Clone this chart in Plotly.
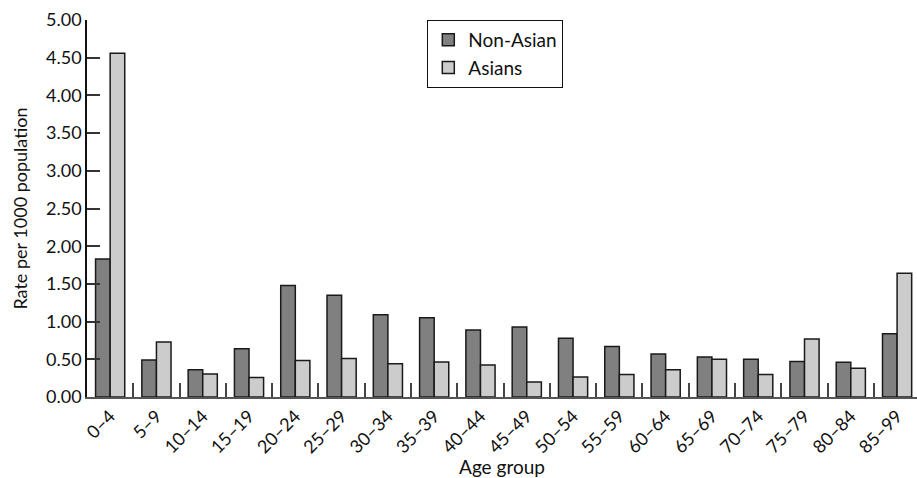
import plotly.graph_objects as go

age_groups = ["0–4", "5–9", "10–14", "15–19", "20–24", "25–29", "30–34", "35–39", "40–44",
              "45–49", "50–54", "55–59", "60–64", "65–69", "70–74", "75–79", "80–84", "85–99"]
non_asian = [1.83, 0.49, 0.36, 0.64, 1.48, 1.35, 1.09, 1.05, 0.89, 0.93, 0.78, 0.67, 0.57, 0.53, 0.50, 0.47, 0.46, 0.84]
asians = [4.56, 0.73, 0.305, 0.26, 0.485, 0.51, 0.44, 0.465, 0.425, 0.20, 0.265, 0.30, 0.36, 0.50, 0.30, 0.77, 0.38, 1.64]
y_ticks = [0, 0.5, 1, 1.5, 2, 2.5, 3, 3.5, 4, 4.5, 5]

FONT = "Lato, 'Open Sans', sans-serif"

fig = go.Figure()
fig.add_trace(go.Bar(name="Non-Asian", x=age_groups, y=non_asian,
                     marker=dict(color="#808080", line=dict(color="#1a1a1a", width=1.5))))
fig.add_trace(go.Bar(name="Asians", x=age_groups, y=asians,
                     marker=dict(color="#cccccc", line=dict(color="#1a1a1a", width=1.5))))

fig.update_layout(
    width=917, height=478,
    margin=dict(l=87, r=0, t=20, b=81),
    paper_bgcolor="white", plot_bgcolor="white",
    barmode="group", bargap=0.37, bargroupgap=0,
    font=dict(family=FONT, size=18, color="#111"),
    showlegend=True,
    legend=dict(x=0.41, y=1.0, xanchor="left", yanchor="top",
                bordercolor="#111", borderwidth=1, bgcolor="white",
                font=dict(size=19), itemwidth=30, tracegroupgap=0),
    xaxis=dict(
        range=[-0.5, 17.43], automargin=False,
        tickson="boundaries", ticks="inside", ticklen=14, tickcolor="#444", tickwidth=1.5,
        tickangle=-45, showline=True, linecolor="#555", linewidth=1.5,
        showgrid=False, zeroline=False,
        tickfont=dict(size=18),
        title=dict(text="Age group", font=dict(size=19), standoff=4),
    ),
    yaxis=dict(
        range=[0, 5], tickvals=y_ticks, tickformat=".2f", automargin=False,
        ticks="inside", ticklen=13, tickcolor="#333", tickwidth=1.5,
        showline=True, linecolor="#111", linewidth=1.5,
        showgrid=False, zeroline=False,
        tickfont=dict(size=18),
        title=dict(text="Rate per 1000 population", font=dict(size=18), standoff=14),
    ),
)

fig.write_html("out.html", config={"displayModeBar": False},
               post_script="document.body.style.margin='0px';document.body.style.overflow='hidden';")
